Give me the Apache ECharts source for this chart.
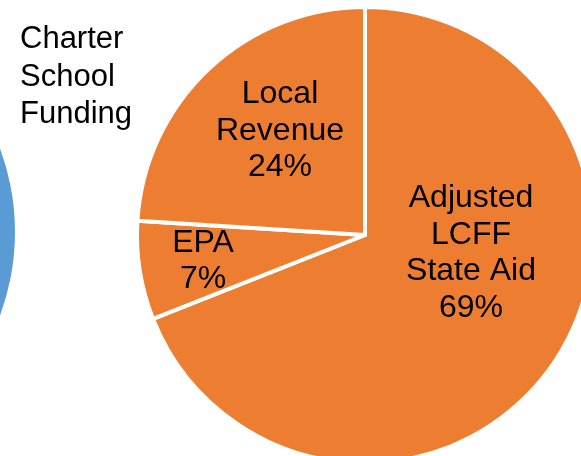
<!DOCTYPE html>
<html>
<head>
<meta charset="utf-8">
<script src="https://cdn.jsdelivr.net/npm/echarts@6/dist/echarts.min.js"></script>
<style>
html,body{margin:0;padding:0;background:#fff;}
#chart{width:581px;height:456px;}
</style>
</head>
<body>
<div id="chart"></div>
<script>
const titleLines = ['Charter', 'School', 'Funding'];
const categories = ['Adjusted\nLCFF\nState Aid', 'EPA', 'Local\nRevenue'];
const values = [69, 7, 24];
const otherPieValues = [100];

// label anchor points (pixels) for each slice label, chosen to match the reference layout
const labelAnchors = [[471, 253], [203, 261], [280, 131]];

const chart = echarts.init(document.getElementById('chart'), null, {renderer: 'canvas'});
const FONT = "'Liberation Sans', Arial, sans-serif";

chart.setOption({
  animation: false,
  backgroundColor: '#ffffff',
  title: {
    text: titleLines.join('\n'),
    left: 15,
    top: 16,
    textStyle: {
      fontFamily: FONT,
      fontSize: 31,
      fontWeight: 'normal',
      color: '#000000',
      lineHeight: 37.5
    }
  },
  series: [
    {
      type: 'pie',
      silent: true,
      center: [-225, 232],
      radius: 240,
      startAngle: 90,
      label: {show: false},
      labelLine: {show: false},
      itemStyle: {color: '#5B9BD5'},
      data: otherPieValues.map(v => ({value: v, name: 'other'}))
    },
    {
      type: 'pie',
      center: [365, 235],
      radius: 228,
      startAngle: 90,
      clockwise: true,
      avoidLabelOverlap: false,
      itemStyle: {
        color: '#ED7D31',
        borderColor: '#ffffff',
        borderWidth: 4
      },
      label: {
        show: true,
        position: 'inside',
        formatter: p => p.name + '\n' + p.value + '%',
        fontFamily: FONT,
        fontSize: 32,
        lineHeight: 36.5,
        color: '#000000',
        align: 'center'
      },
      labelLine: {show: false},
      labelLayout: function (params) {
        const a = labelAnchors[params.dataIndex];
        return {x: a[0], y: a[1], align: 'center', verticalAlign: 'middle'};
      },
      data: categories.map((c, i) => ({name: c, value: values[i]}))
    }
  ]
});
</script>
</body>
</html>
